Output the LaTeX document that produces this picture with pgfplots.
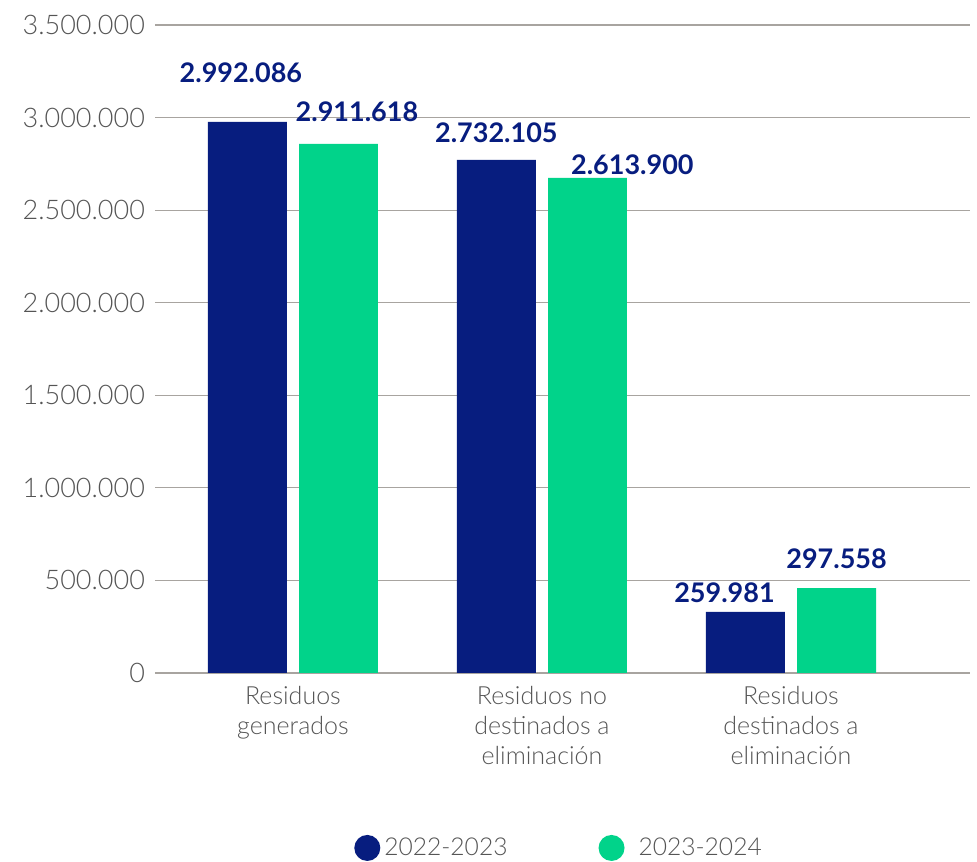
\documentclass[border=0pt]{standalone}
\usepackage{pgfplots}
\pgfplotsset{compat=1.18}
\usepackage{fontspec}
\setmainfont{Lato}
\newfontfamily\lightfont{Lato Light}
\definecolor{navy}{RGB}{7,29,127}
\definecolor{mint}{RGB}{1,211,138}
\definecolor{txt}{RGB}{85,85,85}
\definecolor{gridc}{RGB}{168,164,160}
\begin{document}
\begin{tikzpicture}
\begin{axis}[
  name=ax,
  width=407.5pt, height=324pt, scale only axis,
  xmin=-0.554, xmax=2.719, ymin=0, ymax=3500000,
  axis x line=bottom, axis y line=left, axis line style={draw=none},
  major tick length=0pt,
  ytick={0,500000,1000000,1500000,2000000,2500000,3000000,3500000},
  scaled y ticks=false,
  /pgf/number format/fixed,
  /pgf/number format/1000 sep={.},
  /pgf/number format/assume math mode=true,
  yticklabel style={font=\lightfont\fontsize{13.5}{16}\selectfont, text=txt, xshift=-1.5pt},
  ymajorgrids, grid style={gridc, line width=0.6pt},
  xtick={0,1,2},
  xticklabels={Residuos\\generados, Residuos no\\destinados a\\eliminación, Residuos\\destinados a\\eliminación},
  xticklabel style={font=\lightfont\fontsize{12.5}{15}\selectfont, text=txt, align=center, yshift=-3pt},
  legend columns=2,
  legend style={draw=none, at={(0.497,-0.27)}, anchor=center,
    font=\lightfont\fontsize{12.3}{14}\selectfont, text=txt,
    /tikz/every even column/.append style={column sep=43.5pt}},
]
\addplot[ybar, bar width=0.317, bar shift=-0.183, draw=none, fill=navy,
  legend image code/.code={\fill[navy] (0pt,0pt) circle (6.5pt);}]
  coordinates {(0,2977000) (1,2771000) (2,330000)};
\addlegendentry{2022-2023}
\addplot[ybar, bar width=0.317, bar shift=0.183, draw=none, fill=mint,
  legend image code/.code={\fill[mint] (0pt,0pt) circle (6.5pt);}]
  coordinates {(0,2858000) (1,2674000) (2,459000)};
\addlegendentry{\hspace{5pt}2023-2024}
\addplot[draw=none, mark=none, forget plot, nodes near coords, point meta=explicit symbolic,
  nodes near coords style={anchor=center, font=\bfseries\fontsize{13.5}{16}\selectfont, text=navy}]
  coordinates {
    (-0.209,3241000) [2.992.086]
    (0.257,3031000) [2.911.618]
    (0.817,2917000) [2.732.105]
    (1.363,2744000) [2.613.900]
    (1.733,432000) [259.981]
    (2.183,616000) [297.558]
  };
\end{axis}
\pgfresetboundingbox
\path[use as bounding box] ([xshift=-77.5pt,yshift=-94.5pt]ax.south west) rectangle ([xshift=3.5pt,yshift=12.5pt]ax.north east);
\end{tikzpicture}
\end{document}
